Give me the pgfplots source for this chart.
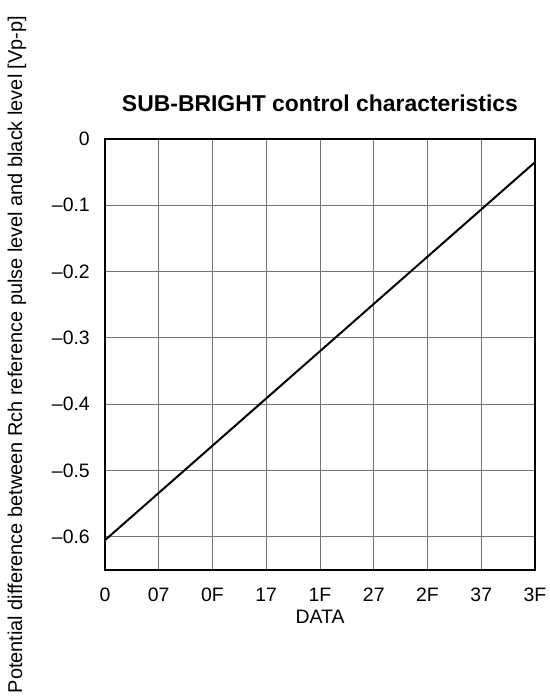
\documentclass[border=0pt]{standalone}
\usepackage{fontspec}
\setmainfont{Liberation Sans}
\usepackage{pgfplots}
\pgfplotsset{compat=1.18}
\begin{document}
\begin{tikzpicture}[x=1bp,y=1bp]
\path[use as bounding box] (0,0) rectangle (550,698);
\begin{axis}[
  at={(105bp,128bp)}, anchor=south west,
  scale only axis, width=430bp, height=431bp,
  xmin=0, xmax=8, ymin=-0.65, ymax=0,
  xtick={0,1,2,3,4,5,6,7,8},
  xticklabels={0,07,0F,17,1F,27,2F,37,3F},
  ytick={-0.6,-0.5,-0.4,-0.3,-0.2,-0.1,0},
  yticklabels={–0.6,–0.5,–0.4,–0.3,–0.2,–0.1,0},
  major tick length=0pt,
  grid=major,
  major grid style={line width=0.9bp, draw=black!55},
  axis line style={line width=1.8bp, black},
  tick label style={font=\fontsize{19.5}{22}\selectfont, inner sep=0pt},
  xticklabel style={anchor=base, yshift=-32bp},
  yticklabel style={anchor=east, xshift=-15bp},
  title={SUB-BRIGHT control characteristics},
  title style={font=\bfseries\fontsize{23}{26}\selectfont, at={(axis description cs:0.5,1)}, anchor=base, yshift=22bp, inner sep=0pt},
  xlabel={DATA},
  xlabel style={font=\fontsize{19.5}{22}\selectfont, at={(axis description cs:0.5,0)}, anchor=base, yshift=-54bp, inner sep=0pt},
  ylabel={Potential difference between Rch reference pulse level and black level [Vp-p]},
  ylabel style={font=\fontsize{20}{22}\selectfont, at={(axis description cs:0,0.5)}, anchor=center, rotate=0, yshift=88bp, inner sep=0pt},
  clip=false,
]
\addplot[black, line width=2bp] coordinates {(0,-0.605) (8,-0.035)};
\end{axis}
\end{tikzpicture}
\end{document}
